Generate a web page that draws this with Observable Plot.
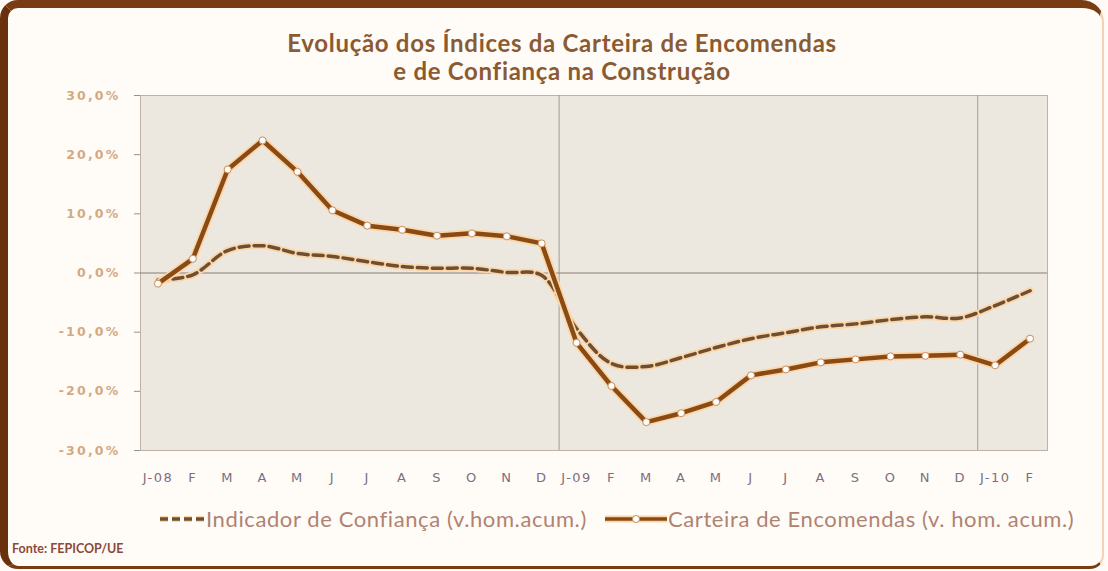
<!DOCTYPE html>
<html><head><meta charset="utf-8">
<script src="https://cdn.jsdelivr.net/npm/d3@7"></script>
<script src="https://cdn.jsdelivr.net/npm/@observablehq/plot@0.6"></script>
<style>
body{margin:0;background:#fff;}
#wrap{position:relative;width:1108px;height:571px;overflow:hidden;font-family:Lato,"Open Sans",sans-serif;background:#fffaf6;}
#frame{position:absolute;left:0;top:0;width:1104px;height:569px;box-sizing:border-box;background:#fffcf7;border-top:8px solid #7a3c12;border-left:8px solid #6a300e;border-right:2px solid #f3d2b8;border-bottom:3px solid #7a3c12;border-radius:18px 22px 14px 18px;}
#title{position:absolute;left:0;width:1124px;top:29px;text-align:center;font-weight:700;font-size:24px;letter-spacing:0.7px;line-height:28px;color:#8c5a32;}
#chart{position:absolute;left:0;top:85px;}
.leg{position:absolute;top:505px;font-size:22px;letter-spacing:0.6px;color:#b08272;white-space:nowrap;display:flex;align-items:center;}
#src{position:absolute;left:12px;top:541px;font-size:12.5px;font-weight:700;color:#8a4a3a;}
</style></head>
<body>
<div id="wrap">
<div id="frame"></div>
<div id="title">Evolução dos Índices da Carteira de Encomendas<br>e de Confiança na Construção</div>
<div id="chart"></div>
<div class="leg" style="left:158px;"><svg width="48" height="24"><line x1="2" y1="12" x2="46" y2="12" stroke="#fbd6a8" stroke-width="6" stroke-dasharray="8,4"/><line x1="2" y1="12" x2="46" y2="12" stroke="#6e4f33" stroke-width="3.5" stroke-dasharray="8,4"/></svg><span>Indicador de Confiança (v.hom.acum.)</span></div>
<div class="leg" style="left:604px;"><svg width="64" height="24"><line x1="1" y1="12" x2="63" y2="12" stroke="#fbd6a8" stroke-width="7"/><line x1="1" y1="12" x2="63" y2="12" stroke="#8a4a14" stroke-width="3.5"/><circle cx="32" cy="12" r="3.5" fill="#fff" stroke="#c89060" stroke-width="1"/></svg><span>Carteira de Encomendas (v. hom. acum.)</span></div>
<div id="src">Fonte: FEPICOP/UE</div>
</div>
<script>
const months = ["J-08","F","M","A","M","J","J","A","S","O","N","D","J-09","F","M","A","M","J","J","A","S","O","N","D","J-10","F"];
const carteira = [-1.8,2.4,17.5,22.4,17.1,10.6,8.0,7.3,6.3,6.7,6.2,5.0,-11.8,-19.1,-25.2,-23.7,-21.8,-17.3,-16.3,-15.1,-14.6,-14.1,-14.0,-13.8,-15.6,-11.1];
const confianca = [-1.2,-0.3,3.8,4.6,3.3,2.8,1.9,1.1,0.8,0.8,0.1,-0.4,-9.4,-15.3,-15.8,-14.3,-12.6,-11.1,-10.1,-9.1,-8.6,-7.9,-7.4,-7.6,-5.5,-3.0];
const yTicks = [-30,-20,-10,0,10,20,30];
const yearBreaks = [11.5, 23.5];

const dataC = carteira.map((v,i)=>({i, v}));
const dataI = confianca.map((v,i)=>({i, v}));
const fmt = d => d.toFixed(1).replace(".", ",") + "%";

const chart = Plot.plot({
  width: 1108, height: 410,
  marginLeft: 140, marginRight: 61, marginTop: 10, marginBottom: 45,
  style: {fontFamily: "Lato, 'Open Sans', sans-serif", background: "transparent", overflow: "visible"},
  x: {type: "linear", domain: [-0.5, 25.5], label: null},
  y: {domain: [-30, 30], label: null},
  marks: [
    Plot.frame({fill: "#ece8e0", stroke: "#bbb3aa"}),
    Plot.ruleX(yearBreaks, {stroke: "#a59a92", strokeWidth: 1}),
    Plot.ruleY([0], {stroke: "#8d7c72", strokeWidth: 1.2}),
    Plot.line(dataI, {x: "i", y: "v", curve: "catmull-rom", stroke: "#fbd6a8", strokeWidth: 7, strokeDasharray: "10,5"}),
    Plot.line(dataI, {x: "i", y: "v", curve: "catmull-rom", stroke: "#6e4f33", strokeWidth: 3.5, strokeDasharray: "10,5"}),
    Plot.line(dataC, {x: "i", y: "v", stroke: "#fbd6a8", strokeWidth: 8}),
    Plot.line(dataC, {x: "i", y: "v", stroke: "#8a4a14", strokeWidth: 4.5}),
    Plot.dot(dataC, {x: "i", y: "v", r: 3.5, fill: "#fff", stroke: "#c89060", strokeWidth: 1}),
    Plot.axisY({ticks: yTicks, tickFormat: fmt, tickSize: 6, tickPadding: 14, fontSize: 12.5, fontWeight: 700, fontFamily: "'DejaVu Sans', sans-serif", color: "#d4a982", stroke: "#9a8f88"}),
    Plot.axisX({ticks: d3.range(26), tickFormat: i => months[i], tickSize: 0, tickPadding: 22, fontSize: 13, fontFamily: "'DejaVu Sans', sans-serif", color: "#7e6e80"})
  ]
});
chart.querySelectorAll("[aria-label='y-axis tick label']").forEach(g => g.style.letterSpacing = "2.2px");
chart.querySelectorAll("[aria-label='x-axis tick label']").forEach(g => g.style.letterSpacing = "1.5px");
document.getElementById("chart").appendChild(chart);
</script>
</body></html>
